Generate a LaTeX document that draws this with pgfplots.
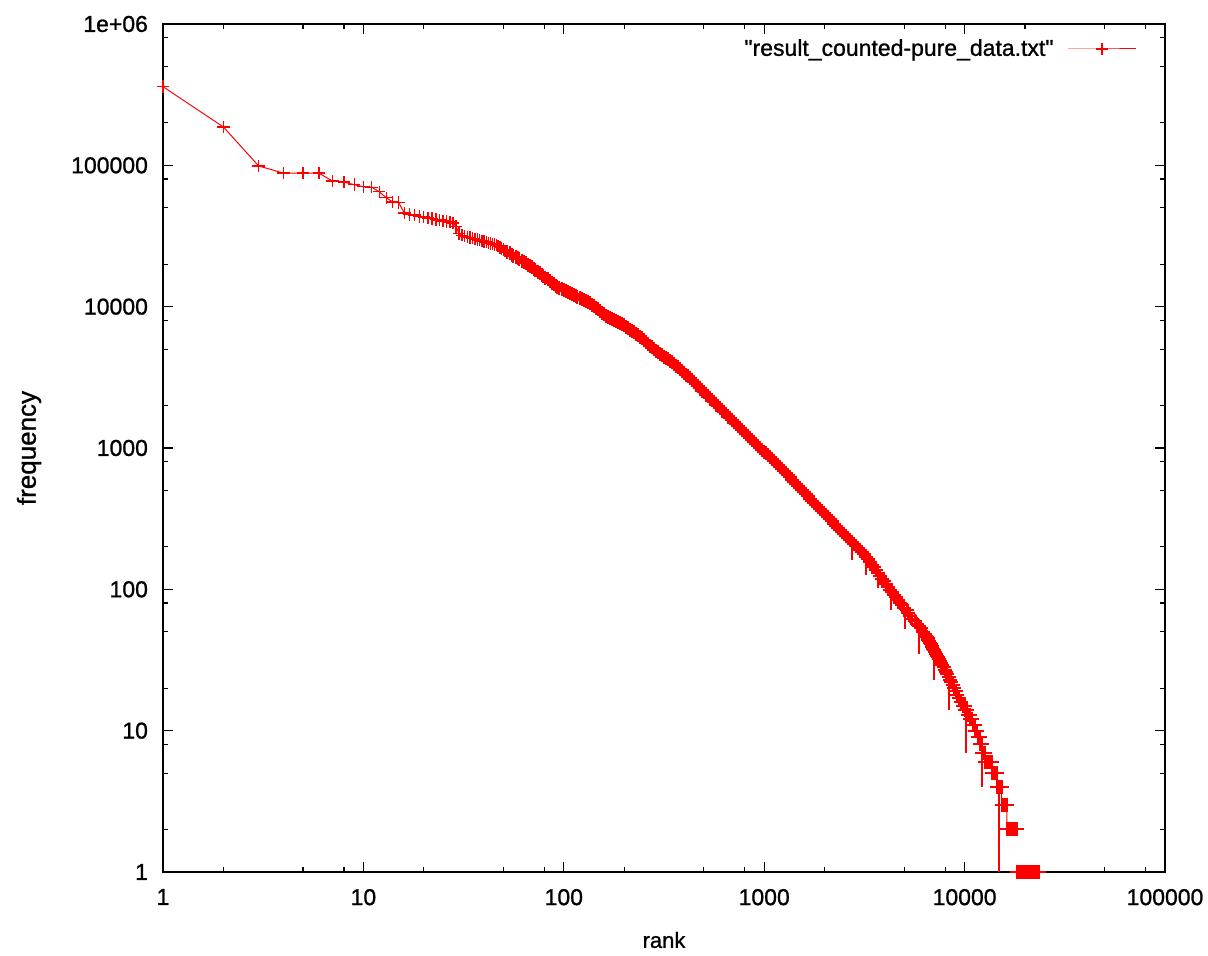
\documentclass[border=0pt]{standalone}
\usepackage{fontspec}
\setmainfont{Liberation Sans}[Ligatures=TeXOff, FakeBold=1]
\usepackage{pgfplots}
\pgfplotsset{compat=1.18}
\newcommand\fs{\fontsize{11.5pt}{13pt}\selectfont}
\begin{document}
\begin{tikzpicture}
\begin{axis}[
  at={(0pt,0pt)}, anchor=south west,
  scale only axis, width=501pt, height=424pt,
  xmode=log, ymode=log,
  xmin=1, xmax=100000, ymin=1, ymax=1000000,
  xtick={1,10,100,1000,10000,100000},
  xticklabels={1,10,100,1000,10000,100000},
  ytick={1,10,100,1000,10000,100000,1000000},
  yticklabels={1,10,100,1000,10000,100000,1e+06},
  minor xtick={2,5,8,20,50,80,200,500,800,2000,5000,8000,20000,50000,80000},
  minor ytick={2,5,8,20,50,80,200,500,800,2000,5000,8000,20000,50000,80000,200000,500000,800000},
  major tick length=5pt, minor tick length=2.5pt,
  tick align=inside,
  axis line style={line width=1pt},
  every tick/.style={black, line width=0.6pt},
  tick label style={font=\fs},
  xticklabel style={yshift=-5pt},
  yticklabel style={xshift=-4pt},
  xlabel={rank}, ylabel={frequency},
  xlabel style={font=\fontsize{11pt}{13pt}\selectfont, at={(axis description cs:0.5,-0.0802)}, anchor=center},
  ylabel style={font=\fontsize{13pt}{15pt}\selectfont, at={(axis description cs:-0.1337,0.5)}, anchor=center},
  legend plot pos=right,
  legend style={draw=none, fill=none, font=\fs, inner sep=0pt,
    /tikz/column sep=5pt,
    at={(axis description cs:0.972,0.9705)}, anchor=east},
  legend image code/.code={\draw[mark repeat=2,mark phase=2] plot coordinates {(0pt,0pt)(17pt,0pt)(34pt,0pt)};},
  unbounded coords=jump,
]
\addplot[color=red, line width=0.5pt, mark=+, mark size=3.1pt, mark options={color=red, line width=0.7pt}] table {
x y
1 360000
2 187000
3 99000
4 88000
5 88000
6 88000
7 77500
8 76000
9 73000
10 70500
11 70000
12 65000
13 59000
14 55000
15 54500
16 46000
17 45000
18 44500
19 43500
20 43000
21 42500
22 42000
23 41500
24 41000
25 40500
26 40000
27 39800
28 39000
29 37000
30 33000
31 32000
32 31500
33 31000
34 30800
35 30500
36 30000
37 29800
38 29500
39 29200
40 29000
41 28700
42 28300
43 28000
44 27800
45 27500
46 27200
47 26800
48 26300
49 25800
50 25300
51 24800
52 24320
};
\addlegendentry{"result\_counted-pure\_data.txt"}
\addplot[color=red, line width=0.6pt, forget plot] coordinates {
(2742,216) (2742,161) (2742,nan)
(3222,172) (3222,126) (3222,nan)
(3698,132) (3698,102) (3698,nan)
(4295,98) (4295,71) (4295,nan)
(5045,73) (5045,52) (5045,nan)
(5920,55) (5920,35) (5920,nan)
(7035,37) (7035,23) (7035,nan)
(8360,24) (8360,14) (8360,nan)
(10160,14) (10160,7) (10160,nan)
(12210,8) (12210,4) (12210,nan)
(14850,4) (14850,1)
};
\addplot[color=red, line width=0.5pt, mark=+, mark size=3.5pt, mark options={color=red, line width=1pt}, forget plot] table {
x y
52 24320
54 23840
55 23360
56 22900
58 22460
59 22020
60 21590
62 21170
63 20750
65 20290
66 19830
68 19390
69 18950
71 18520
72 18100
74 17700
76 17300
78 16860
79 16430
81 16000
83 15590
85 15190
87 14800
89 14420
91 14050
93 13780
95 13520
98 13300
100 13090
102 12870
105 12660
107 12450
110 12250
112 12050
115 11860
117 11670
120 11490
123 11310
126 11130
129 10950
132 10780
135 10560
138 10340
141 10070
145 9810
148 9560
151 9310
155 9070
158 8830
162 8630
166 8430
170 8290
174 8160
178 8020
182 7890
186 7760
191 7640
195 7510
200 7380
204 7210
209 7050
214 6890
219 6730
224 6580
229 6430
234 6280
240 6140
245 5960
251 5790
257 5620
263 5460
269 5310
275 5160
282 5010
288 4860
295 4740
302 4630
309 4530
316 4430
324 4330
331 4230
339 4130
347 4040
355 3930
363 3830
372 3720
380 3610
389 3510
398 3410
407 3310
417 3210
427 3110
437 3010
447 2910
457 2820
468 2730
479 2640
490 2550
501 2470
513 2390
525 2320
537 2240
550 2170
562 2100
575 2030
589 1970
603 1910
617 1850
631 1790
646 1730
661 1670
676 1620
692 1570
708 1520
724 1470
741 1420
759 1380
776 1330
794 1290
813 1250
832 1210
851 1175
871 1140
891 1105
912 1070
933 1037
955 1005
977 974
1000 944
1023 915
1047 887
1072 860
1096 833
1122 808
1148 783
1175 759
1202 735
1230 710
1259 686
1288 663
1318 641
1349 619
1380 598
1413 578
1445 558
1479 539
1514 521
1549 504
1585 487
1622 470
1660 454
1698 439
1738 424
1778 410
1820 396
1862 383
1905 370
1950 358
1995 346
2042 334
2089 323
2138 312
2188 302
2239 292
2291 282
2344 272
2399 263
2455 254
2512 246
2570 238
2630 230
2692 222
2754 215
2818 208
2884 201
2951 195
3020 189
3090 183
3162 177
3236 170
3311 163
3388 156
3467 149
3548 143
3631 137
3715 131
3802 125
3890 119
3981 114
4074 109
4169 104
4266 99
4365 95
4467 91
4571 88
4677 84
4786 80
4898 77
5012 74
5129 71
5248 68
5370 65
5495 62
5623 60
5754 57
5888 55
6026 53
6166 50
6310 48
6415 47
6485 46
6541 45
6596 44
6656 43
6716 42
6778 41
6843 40
6910 39
6980 38
7053 37
7129 36
7206 35
7286 34
7371 33
7458 32
7551 31
7648 30
7748 29
7854 28
7965 27
8081 26
8202 25
8318 24
8443 23
8575 22
8716 21
8866 20
9026 19
9198 18
9390 17
9572 16
9800 15
9920 15
10040 15
10100 14
10220 14
10330 14
10350 13
10470 13
10580 13
10600 12
10720 12
10840 12
10930 12
10950 11
11090 11
11230 11
11250 10
11410 10
11580 10
11600 9
11760 9
11930 9
11950 8
12100 8
12260 8
12280 7
12450 7
12630 7
12650 6
12800 6
12950 6
13100 6
13250 6
13400 6
13550 6
13680 6
13700 5
13860 5
14020 5
14180 5
14340 5
14430 5
14450 4
14620 4
14790 4
14960 4
15130 4
15280 4
15300 3
15480 3
15660 3
15840 3
16030 3
16230 3
16250 2
16440 2
16630 2
16830 2
17030 2
17230 2
17430 2
17640 2
17850 2
18060 2
18280 2
18290 nan
18300 1
18510 1
18720 1
18940 1
19160 1
19380 1
19610 1
19840 1
20070 1
20300 1
20540 1
20780 1
21020 1
21270 1
21520 1
21770 1
22020 1
22280 1
22540 1
22800 1
23060 1
23200 1
23400 1
};
\end{axis}
\pgfresetboundingbox
\path[use as bounding box] (-81.5pt,-42pt) rectangle (522.5pt,436pt);
\end{tikzpicture}
\end{document}
